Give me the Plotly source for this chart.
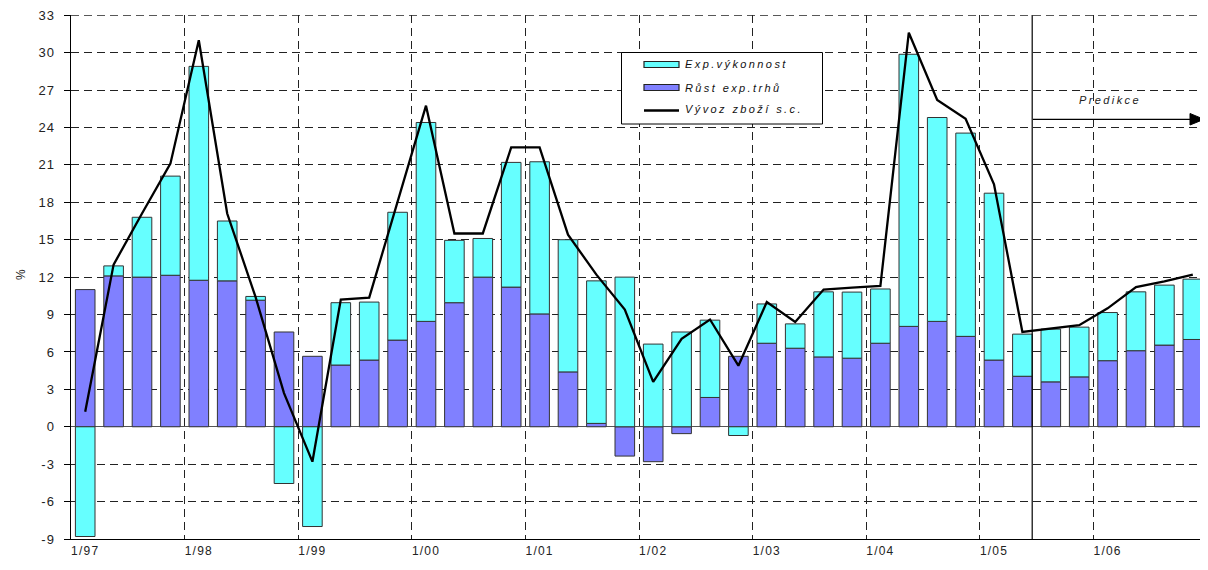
import plotly.graph_objects as go

quarters = [f"{q}/{y:02d}" for y in [97, 98, 99, 0, 1, 2, 3, 4, 5, 6] for q in (1, 2, 3, 4)]

rust_exp_trhu = [11.0, 12.1, 12.0, 12.15, 11.75, 11.7, 10.15, 7.6,
                 5.65, 4.95, 5.35, 6.95, 8.45, 9.95, 12.0, 11.2,
                 9.05, 4.4, 0.27, -2.35, -2.8, -0.55, 2.35, 5.65,
                 6.7, 6.3, 5.6, 5.5, 6.7, 8.05, 8.45, 7.25,
                 5.35, 4.05, 3.6, 4.0, 5.3, 6.1, 6.55, 7.0]

exp_vykonnost = [-8.8, 0.8, 4.8, 7.95, 17.15, 4.8, 0.3, -4.55,
                 -8.0, 5.0, 4.65, 10.25, 15.95, 5.0, 3.1, 10.0,
                 12.2, 10.6, 11.43, 12.0, 6.63, 7.6, 6.2, -0.7,
                 3.15, 1.95, 5.22, 5.3, 4.35, 21.82, 16.35, 16.3,
                 13.38, 3.38, 4.23, 3.99, 3.86, 4.72, 4.81, 4.84]

vyvoz_zbozi = [1.2, 13.0, 17.1, 21.1, 31.0, 17.1, 10.4, 2.7,
               -2.8, 10.2, 10.35, 18.0, 25.75, 15.5, 15.5, 22.4,
               22.4, 15.4, 12.2, 9.4, 3.6, 7.05, 8.6, 4.9,
               10.0, 8.4, 11.0, 11.15, 11.3, 31.6, 26.2, 24.7,
               19.45, 7.6, 7.9, 8.15, 9.5, 11.2, 11.65, 12.2]

y_ticks = list(range(-9, 34, 3))
prediction_start = "2/05"
names = ["Exp.výkonnost", "Růst exp.trhů", "Vývoz zboží s.c."]

x = list(range(len(quarters)))
label_idx = [i for i, q in enumerate(quarters) if q.startswith("1/")]
year_bounds = [i - 0.5 for i in label_idx[1:]]


def spaced(t, px=1.5):
    return f'<span style="letter-spacing:{px}px">{t}</span>'


label_txt = [spaced(quarters[i], 1.2) for i in label_idx]

CYAN = "#66FFFF"
PURPLE = "#8080FF"
FONT = "Liberation Sans, Arial, sans-serif"

# page body has an 8px margin; plot area in screen pixels
OFF = 8
FW, FH = 1208 - OFF, 570 - OFF
L, R, T, B = 71, 1207, 15, 539
W, H = R - L, B - T


def px(p):
    return (p - L) / W


def py(p):
    return (B - p) / H


fig = go.Figure()
fig.add_trace(go.Bar(
    x=x, y=rust_exp_trhu, name=names[1], showlegend=False,
    marker=dict(color=PURPLE, line=dict(color="#333333", width=1)),
))
fig.add_trace(go.Bar(
    x=x, y=exp_vykonnost, name=names[0], showlegend=False,
    marker=dict(color=CYAN, line=dict(color="#333333", width=1)),
))
fig.add_trace(go.Scatter(
    x=x, y=vyvoz_zbozi, name=names[2], showlegend=False,
    mode="lines", line=dict(color="black", width=2.3),
))

pidx = quarters.index(prediction_start)
bargap = 0.31
split_x = pidx + (1 - bargap) / 2

shapes = [
    dict(type="line", xref="paper", yref="y", x0=0, x1=1, y0=y_ticks[-1], y1=y_ticks[-1],
         layer="below", line=dict(color="#222", width=1, dash="8px,5px")),
    dict(type="line", xref="x", yref="paper", x0=split_x, x1=split_x,
         y0=0, y1=1, line=dict(color="black", width=1.2)),
    dict(type="line", xref="paper", yref="paper", x0=px(1033), x1=px(1192),
         y0=py(119.3), y1=py(119.3), line=dict(color="black", width=1.2)),
    dict(type="path", xref="paper", yref="paper",
         path=f"M {px(1190)} {py(113.5)} L {px(1204)} {py(119.3)} L {px(1190)} {py(125)} Z",
         fillcolor="black", line=dict(color="black", width=1)),
    # custom legend
    dict(type="rect", xref="paper", yref="paper", x0=px(621.5), x1=px(822.5),
         y0=py(124), y1=py(52.5), fillcolor="white", line=dict(color="black", width=1)),
    dict(type="rect", xref="paper", yref="paper", x0=px(644), x1=px(679),
         y0=py(67.5), y1=py(61.5), fillcolor=CYAN, line=dict(color="#222", width=1.2)),
    dict(type="rect", xref="paper", yref="paper", x0=px(644), x1=px(679),
         y0=py(90.5), y1=py(84.5), fillcolor=PURPLE, line=dict(color="#222", width=1.2)),
    dict(type="line", xref="paper", yref="paper", x0=px(644), x1=px(679),
         y0=py(110.5), y1=py(110.5), line=dict(color="black", width=2.3)),
]

annotations = [
    dict(x=px(1077), y=py(100.5), xref="paper", yref="paper",
         xanchor="left", yanchor="middle",
         text=spaced("Predikce", 2.4), showarrow=False,
         font=dict(family=FONT, size=11, color="#222", style="italic")),
    dict(x=px(12), y=py(275), xref="paper", yref="paper", text="%",
         showarrow=False, textangle=-90,
         font=dict(family=FONT, size=12, color="#222")),
]
for name, cy in zip(names, [64.5, 87.5, 109.5]):
    annotations.append(dict(x=px(683), y=py(cy), xref="paper", yref="paper",
                            xanchor="left", yanchor="middle", showarrow=False,
                            text=spaced(name, 2.4),
                            font=dict(family=FONT, size=11, color="#111", style="italic")))

fig.update_layout(
    width=FW, height=FH,
    margin=dict(l=L - OFF, r=FW - (R - OFF), t=T - OFF, b=FH - (B - OFF), pad=0),
    paper_bgcolor="white", plot_bgcolor="white",
    barmode="relative", bargap=bargap,
    font=dict(family=FONT, size=12, color="#222"),
    showlegend=False,
    shapes=shapes, annotations=annotations,
    xaxis=dict(range=[-0.5, len(quarters) - 0.5], tickmode="array",
               tickvals=label_idx, ticktext=label_txt, showgrid=False,
               showline=True, linecolor="black", linewidth=1.2, ticks="",
               zeroline=False, automargin=False,
               minor=dict(tickmode="array", tickvals=year_bounds, showgrid=True,
                          gridcolor="#222", griddash="8px,5px", gridwidth=1, ticks=""),
               tickfont=dict(size=12)),
    yaxis=dict(range=[-9, 33.02], tickmode="array", tickvals=y_ticks,
               ticktext=[spaced(str(v), 1.2) for v in y_ticks],
               showgrid=True, gridcolor="#222", griddash="8px,5px", gridwidth=1,
               zeroline=True, zerolinecolor="#555", zerolinewidth=1.2,
               showline=True, linecolor="black", linewidth=1.2,
               ticks="outside", ticklen=6, tickcolor="black", automargin=False,
               ticklabeloverflow="allow",
               ticklabelstandoff=6, tickfont=dict(size=13)),
)

fig.write_html("out.html")
